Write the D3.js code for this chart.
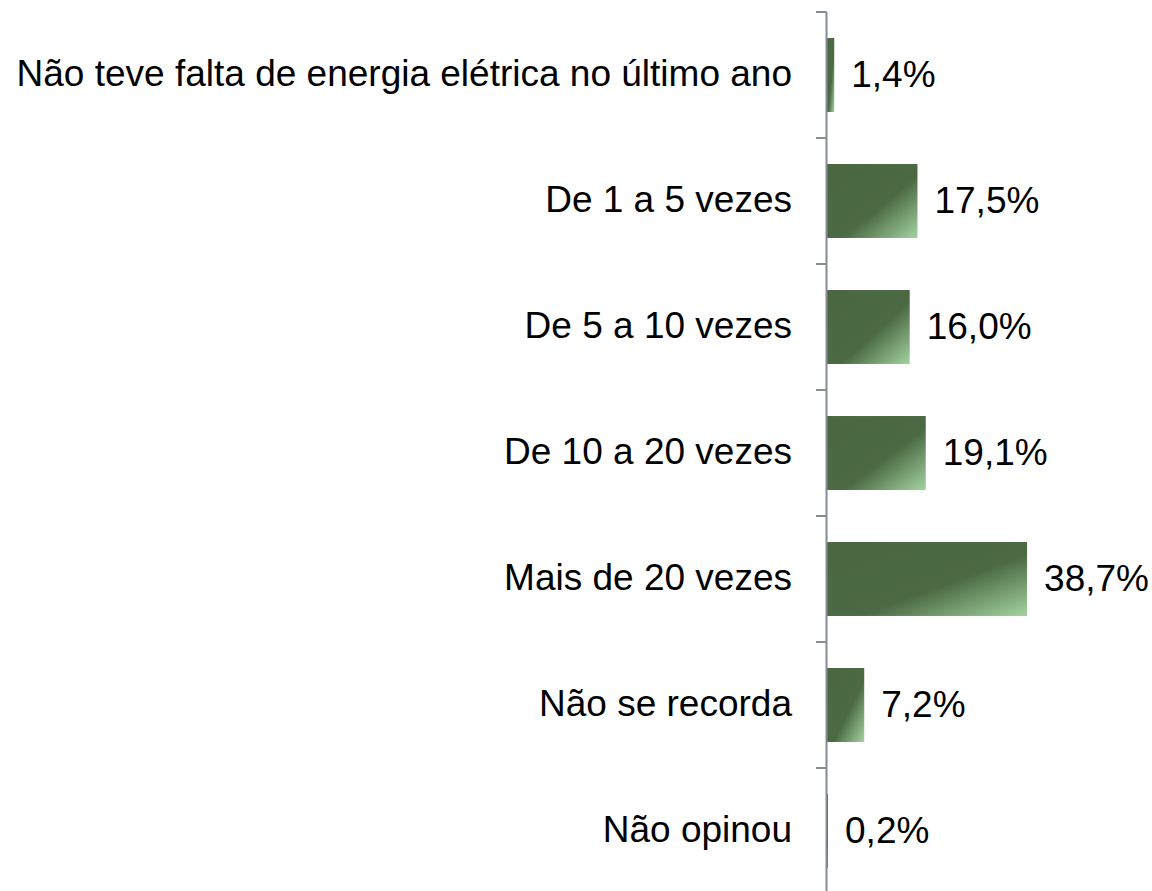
<!DOCTYPE html>
<meta charset="utf-8">
<style>
body { margin: 0; background: #fff; }
.cat text, .val text { font: 37px "Liberation Sans", Arial, sans-serif; fill: #000; }
</style>
<svg width="1152" height="891"></svg>
<script src="https://d3js.org/d3.v7.min.js"></script>
<script>

var categories = [
  "Não teve falta de energia elétrica no último ano",
  "De 1 a 5 vezes",
  "De 5 a 10 vezes",
  "De 10 a 20 vezes",
  "Mais de 20 vezes",
  "Não se recorda",
  "Não opinou"
];
var values = [1.4, 17.5, 16.0, 19.1, 38.7, 7.2, 0.2];
var valueLabels = ["1,4%", "17,5%", "16,0%", "19,1%", "38,7%", "7,2%", "0,2%"];

var svg = d3.select("svg");

var axisX = 827;

var y = d3.scaleBand()
    .domain(categories)
    .range([12, 894])
    .paddingInner(0.413)
    .paddingOuter(0.2065);

var x = d3.scaleLinear()
    .domain([0, 40])
    .range([axisX, axisX + 206.8]);

// bar fill: dark green with light corner
var grad = svg.append("defs").append("linearGradient")
    .attr("id", "barfill")
    .attr("x1", 0).attr("y1", 0).attr("x2", 1).attr("y2", 1);
grad.append("stop").attr("offset", 0).attr("stop-color", "#4a6741");
grad.append("stop").attr("offset", 0.58).attr("stop-color", "#4b6943");
grad.append("stop").attr("offset", 1).attr("stop-color", "#a3d3a0");

var data = categories.map(function(c, i) {
  return { cat: c, value: values[i], label: valueLabels[i] };
});

svg.append("g").selectAll("rect")
    .data(data)
  .enter().append("rect")
    .attr("x", x(0))
    .attr("y", function(d) { return y(d.cat); })
    .attr("width", function(d) { return x(d.value) - x(0); })
    .attr("height", y.bandwidth())
    .attr("fill", "url(#barfill)");

// vertical axis with ticks between categories
var step = y.step();
var tickPos = d3.range(categories.length + 1).map(function(i) { return 12 + i * step; });
var ax = svg.append("g").attr("class", "axis");
ax.append("line")
    .attr("x1", axisX - 0.5).attr("x2", axisX - 0.5)
    .attr("y1", 12).attr("y2", 894)
    .attr("stroke", "#868c96").attr("stroke-width", 2);
ax.selectAll("line.tick")
    .data(tickPos)
  .enter().append("line")
    .attr("class", "tick")
    .attr("x1", axisX - 11).attr("x2", axisX - 0.5)
    .attr("y1", function(d) { return d; })
    .attr("y2", function(d) { return d; })
    .attr("stroke", "#868c96").attr("stroke-width", 2);

svg.append("g").attr("class", "cat").selectAll("text")
    .data(data)
  .enter().append("text")
    .attr("x", 792)
    .attr("y", function(d) { return y(d.cat) + y.bandwidth() / 2; })
    .attr("dy", "0.31em")
    .attr("text-anchor", "end")
    .text(function(d) { return d.cat; });

svg.append("g").attr("class", "val").selectAll("text")
    .data(data)
  .enter().append("text")
    .attr("x", function(d) { return x(d.value) + 17; })
    .attr("y", function(d) { return y(d.cat) + y.bandwidth() / 2; })
    .attr("dy", "0.33em")
    .text(function(d) { return d.label; });

</script>
